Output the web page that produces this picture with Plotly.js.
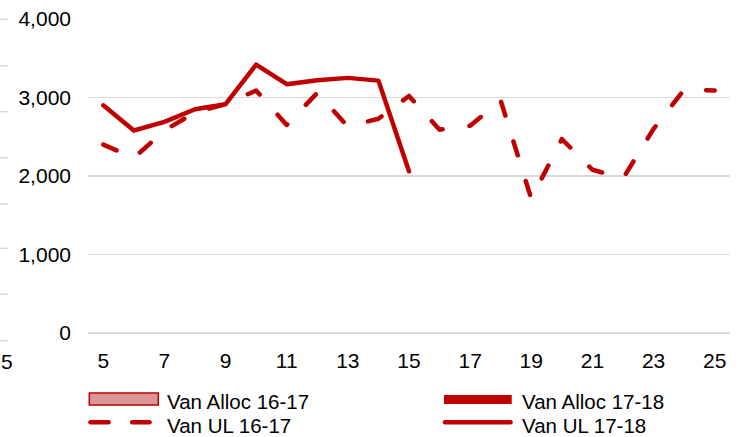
<!DOCTYPE html>
<html>
<head>
<meta charset="utf-8">
<script src="https://cdn.plot.ly/plotly-3.0.1.min.js"></script>
<style>
  html, body { margin: 0; padding: 0; background: #fff; }
  #chart { width: 742px; height: 437px; }
  .js-line { stroke-linecap: round; stroke-linejoin: round; }
</style>
</head>
<body>
<div id="chart"></div>
<script>
// ---- data ----
const weeks = [5, 6, 7, 8, 9, 10, 11, 12, 13, 14, 15, 16, 17, 18, 19, 20, 21, 22, 23, 24, 25];
const vanUL1617 = [2400, 2230, 2580, 2810, 2915, 3090, 2650, 3060, 2630, 2730, 3020, 2590, 2640, 2960, 1710, 2470, 2080, 1970, 2600, 3100, 3090];
const vanUL1718 = [2900, 2580, 2690, 2850, 2915, 3420, 3170, 3220, 3250, 3215, 2060, null, null, null, null, null, null, null, null, null, null];
const vanAlloc1617 = [];
const vanAlloc1718 = [];
const seriesNames = ["Van Alloc 16-17", "Van Alloc 17-18", "Van UL 16-17", "Van UL 17-18"];
const yTicks = [0, 1000, 2000, 3000, 4000];

// ---- layout geometry ----
const W = 742, H = 437;
const M = { l: 88, r: 12, t: 19, b: 104 };
const PW = W - M.l - M.r, PH = H - M.t - M.b;
const px = x => (x - M.l) / PW;
const py = y => (H - M.b - y) / PH;

const RED = "#c00000";
const FONT = "Liberation Sans, Arial, sans-serif";

const traces = [
  { x: weeks.slice(0, vanAlloc1617.length), y: vanAlloc1617, name: seriesNames[0], type: "scatter", mode: "lines",
    fill: "tozeroy", fillcolor: "#d99694", line: { color: RED, width: 1.5 }, showlegend: false },
  { x: weeks.slice(0, vanAlloc1718.length), y: vanAlloc1718, name: seriesNames[1], type: "scatter", mode: "lines",
    line: { color: RED, width: 9 }, showlegend: false },
  { x: weeks, y: vanUL1617, name: seriesNames[2], type: "scatter", mode: "lines",
    line: { color: RED, width: 4.5, dash: "14.5px,27px" }, showlegend: false },
  { x: weeks, y: vanUL1718, name: seriesNames[3], type: "scatter", mode: "lines",
    line: { color: RED, width: 4.5 }, showlegend: false, connectgaps: false }
];

// ---- custom legend (shapes + text) ----
const shapes = [];
const annotations = [];
// Alloc 16-17: filled box
shapes.push({ type: "rect", xref: "paper", yref: "paper",
  x0: px(89.3), x1: px(158.3), y0: py(405), y1: py(393),
  fillcolor: "#d99694", line: { color: RED, width: 1.5 } });
// Alloc 17-18: thick bar
shapes.push({ type: "rect", xref: "paper", yref: "paper",
  x0: px(444), x1: px(511.7), y0: py(404), y1: py(395),
  fillcolor: RED, line: { width: 0 } });
// UL 16-17: two dashes
[[90.5, 108.5], [132.2, 149.5]].forEach(([a, b]) => shapes.push({ type: "line", xref: "paper", yref: "paper",
  x0: px(a), x1: px(b), y0: py(422.3), y1: py(422.3), line: { color: RED, width: 4.5 }, name: "roundcap" }));
// UL 17-18: solid line
shapes.push({ type: "line", xref: "paper", yref: "paper",
  x0: px(445), x1: px(510.5), y0: py(422.3), y1: py(422.3), line: { color: RED, width: 4.5 }, name: "roundcap" });

const legendText = [
  [seriesNames[0], 166, 401.7],
  [seriesNames[1], 521, 401.7],
  [seriesNames[2], 166, 425],
  [seriesNames[3], 521, 425]
];
legendText.forEach(([t, x, y]) => annotations.push({ text: t, xref: "paper", yref: "paper",
  x: px(x), y: py(y), xanchor: "left", yanchor: "middle", showarrow: false,
  font: { family: FONT, size: 20.5, color: "#000" }, borderpad: 0 }));

// remnants of a neighbouring chart at the left edge
[19.3, 65.7, 111.7, 157.7, 204, 248.3, 294.3, 340.7].forEach(y => shapes.push({ type: "line", xref: "paper", yref: "paper",
  x0: px(0), x1: px(8), y0: py(y), y1: py(y), line: { color: "#d9d9d9", width: 1.5 } }));
annotations.push({ text: "5", xref: "paper", yref: "paper", x: px(0), y: py(361),
  xanchor: "left", yanchor: "middle", showarrow: false, borderpad: 0,
  font: { family: FONT, size: 21, color: "#000" } });

const layout = {
  width: W, height: H,
  margin: M,
  paper_bgcolor: "#fff", plot_bgcolor: "#fff",
  font: { family: FONT, size: 21, color: "#000" },
  showlegend: false,
  xaxis: { range: [4.5, 25.5], tick0: 5, dtick: 2, showgrid: false, zeroline: false, showline: false,
    ticks: "", ticklabelstandoff: 13, tickfont: { family: FONT, size: 21, color: "#000" } },
  yaxis: { range: [0, 4000], tickvals: yTicks, tickformat: ",", showgrid: true, gridcolor: "#d9d9d9", gridwidth: 1.5,
    zeroline: true, zerolinecolor: "#d9d9d9", zerolinewidth: 1.5, showline: false, ticks: "",
    ticklabelstandoff: 16, tickfont: { family: FONT, size: 21, color: "#000" } },
  shapes: shapes,
  annotations: annotations
};

Plotly.newPlot("chart", traces, layout, { staticPlot: true, displayModeBar: false }).then(() => {
  document.querySelectorAll(".shapelayer path").forEach(p => {
    const idx = p.getAttribute("data-index");
    if (idx !== null && layout.shapes[+idx] && layout.shapes[+idx].name === "roundcap") p.style.strokeLinecap = "round";
  });
});
</script>
</body>
</html>
